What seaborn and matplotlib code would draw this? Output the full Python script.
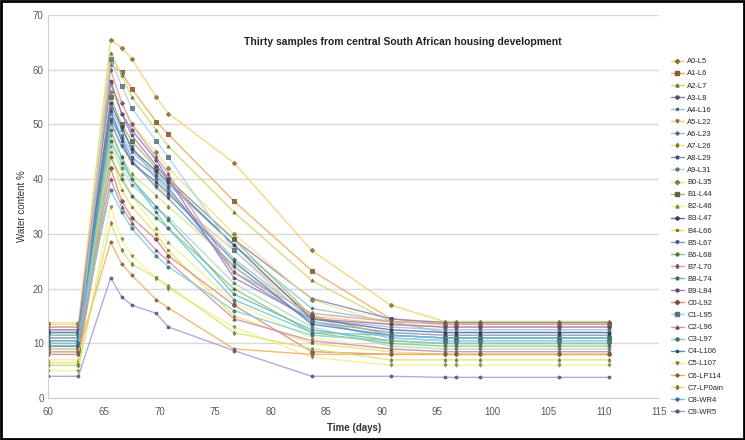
import numpy as np
import pandas as pd
import matplotlib
matplotlib.use("Agg")
import matplotlib.pyplot as plt
import seaborn as sns
from matplotlib.lines import Line2D
from matplotlib.patches import Rectangle

# Sampling times (days)
times = [60, 62.7, 65.6, 66.6, 67.5, 69.7, 70.8, 76.7, 83.7, 90.8, 95.7, 96.7, 98.9, 106.0, 110.5]

samples = ["A0-L5", "A1-L6", "A2-L7", "A3-L8", "A4-L16", "A5-L22", "A6-L23", "A7-L26",
           "A8-L29", "A9-L31", "B0-L35", "B1-L44", "B2-L46", "B3-L47", "B4-L66", "B5-L67",
           "B6-L68", "B7-L70", "B8-L74", "B9-L84", "C0-L92", "C1-L95", "C2-L96", "C3-L97",
           "C4-L106", "C5-L107", "C6-LP114", "C7-LP0ain", "C8-WR4", "C9-WR5"]

# Water content (%) per sample, one value per time
a0 = [13.5, 13.5, 65.5, 64.0, 62.0, 55.0, 52.0, 43.0, 27.0, 17.0, 14.0, 14.0, 14.0, 14.0, 14.0]
a1 = [12.0, 12.0, 61.0, 59.5, 56.5, 50.5, 48.2, 36.0, 23.3, 14.5, 13.5, 13.5, 13.5, 13.5, 13.5]
a2 = [11.0, 11.0, 63.0, 59.0, 55.0, 49.0, 46.0, 34.0, 21.5, 14.0, 14.0, 14.0, 14.0, 14.0, 14.0]
a3 = [10.5, 10.5, 57.5, 52.0, 49.0, 43.5, 40.0, 29.0, 18.2, 14.5, 13.8, 13.8, 13.8, 13.8, 13.8]
a4 = [12.5, 12.5, 52.0, 48.0, 45.0, 41.0, 39.0, 28.0, 16.4, 14.0, 12.0, 12.0, 12.0, 12.0, 12.0]
a5 = [9.0, 9.0, 50.0, 46.0, 43.0, 39.0, 37.0, 27.0, 15.0, 13.5, 13.0, 13.0, 13.0, 13.0, 13.0]
a6 = [13.0, 13.0, 53.0, 49.0, 46.0, 40.0, 38.0, 25.5, 14.5, 13.0, 12.5, 12.5, 12.5, 12.5, 12.5]
a7 = [8.0, 8.0, 48.0, 44.0, 41.0, 37.0, 35.0, 24.5, 15.0, 10.0, 10.0, 10.0, 10.0, 10.0, 10.0]
a8 = [11.5, 11.5, 51.0, 47.5, 44.0, 40.5, 38.5, 23.0, 14.0, 12.0, 11.5, 11.5, 11.5, 11.5, 11.5]
a9 = [6.0, 6.0, 46.0, 42.0, 39.0, 35.0, 33.0, 21.0, 13.0, 9.5, 9.0, 9.0, 9.0, 9.0, 9.0]
b0 = [13.8, 13.8, 56.0, 54.0, 50.0, 45.0, 42.0, 30.0, 18.0, 13.5, 13.0, 13.0, 13.0, 13.0, 13.0]
b1 = [10.0, 10.0, 55.0, 50.0, 47.0, 42.0, 40.0, 29.0, 15.0, 11.5, 11.0, 11.0, 11.0, 11.0, 11.0]
b2 = [7.0, 7.0, 47.0, 41.0, 37.0, 31.0, 28.5, 17.5, 11.0, 9.0, 8.5, 8.5, 8.5, 8.5, 8.5]
b3 = [12.0, 12.0, 54.0, 49.5, 45.5, 41.5, 39.5, 28.0, 14.5, 12.5, 12.0, 12.0, 12.0, 12.0, 12.0]
b4 = [6.5, 6.5, 45.0, 38.0, 35.0, 30.0, 27.0, 15.0, 10.0, 8.5, 8.0, 8.0, 8.0, 8.0, 8.0]
b5 = [11.0, 11.0, 50.5, 46.0, 43.5, 38.5, 36.5, 24.0, 14.0, 11.0, 10.5, 10.5, 10.5, 10.5, 10.5]
b6 = [9.5, 9.5, 44.0, 40.0, 37.0, 33.0, 31.0, 20.0, 12.0, 10.0, 9.5, 9.5, 9.5, 9.5, 9.5]
b7 = [13.0, 13.0, 60.0, 54.0, 50.0, 44.0, 41.0, 23.0, 15.5, 14.0, 13.5, 13.5, 13.5, 13.5, 13.5]
b8 = [10.5, 10.5, 49.0, 44.0, 40.0, 35.0, 32.5, 19.0, 12.5, 10.5, 10.0, 10.0, 10.0, 10.0, 10.0]
b9 = [12.5, 12.5, 58.0, 52.0, 48.0, 42.5, 40.0, 22.0, 14.5, 13.5, 13.0, 13.0, 13.0, 13.0, 13.0]
c0 = [8.5, 8.5, 42.0, 36.0, 33.0, 29.0, 26.0, 17.0, 8.5, 8.0, 8.0, 8.0, 8.0, 8.0, 8.0]
c1 = [9.0, 9.0, 62.0, 57.0, 53.0, 47.0, 44.0, 27.0, 14.0, 11.0, 10.5, 10.5, 10.5, 10.5, 10.5]
c2 = [8.0, 8.0, 40.0, 35.0, 32.0, 27.0, 25.0, 14.5, 10.5, 9.0, 8.5, 8.5, 8.5, 8.5, 8.5]
c3 = [11.5, 11.5, 38.0, 34.0, 31.0, 26.0, 24.0, 16.0, 11.5, 10.5, 10.0, 10.0, 10.0, 10.0, 10.0]
c4 = [9.5, 9.5, 52.5, 47.0, 43.0, 39.5, 37.5, 25.0, 13.5, 11.5, 11.0, 11.0, 11.0, 11.0, 11.0]
c5 = [5.0, 5.0, 35.0, 29.0, 26.0, 22.0, 20.0, 13.0, 7.5, 6.0, 6.0, 6.0, 6.0, 6.0, 6.0]
c6 = [8.5, 8.5, 28.5, 24.5, 22.5, 18.0, 16.5, 9.0, 8.0, 8.0, 8.0, 8.0, 8.0, 8.0, 8.0]
c7 = [6.0, 6.0, 32.0, 27.0, 24.5, 22.0, 20.5, 12.0, 9.0, 7.0, 7.0, 7.0, 7.0, 7.0, 7.0]
c8 = [10.0, 10.0, 47.0, 43.0, 40.0, 34.0, 31.0, 18.0, 12.0, 11.5, 11.0, 11.0, 11.0, 11.0, 11.0]
c9 = [4.0, 4.0, 22.0, 18.5, 17.0, 15.5, 13.0, 8.7, 4.0, 4.0, 3.8, 3.8, 3.8, 3.8, 3.8]

all_values = [a0, a1, a2, a3, a4, a5, a6, a7, a8, a9,
              b0, b1, b2, b3, b4, b5, b6, b7, b8, b9,
              c0, c1, c2, c3, c4, c5, c6, c7, c8, c9]

colors = ["#f2d36b", "#f0a95a", "#c9d96e", "#8d7fbc", "#86c9d9", "#f4c77a", "#9dbde0", "#dbe77e",
          "#7b93c4", "#a9dcc0", "#efe08a", "#a7b87a", "#f6ec9c", "#5f6f9a", "#f3dc55", "#6d9fd0",
          "#8ec27a", "#e39a9a", "#6fb7b0", "#9e7fb4", "#d98b7c", "#a7d2ea", "#c58fb6", "#7cd0cf",
          "#5d86b8", "#f7ee8a", "#f2ad5e", "#d2e66c", "#6dc6dc", "#a99ad6"]
markers = ["D", "s", "^", "o", "*", "v", "P", "d", "p", "h"]

rows = []
for name, vals in zip(samples, all_values):
    for t, v in zip(times, vals):
        rows.append({"Time": t, "Water": v, "Sample": name})
df = pd.DataFrame(rows)

sns.set_style("white")
plt.rcParams["font.family"] = ["Liberation Sans", "DejaVu Sans"]

fig = plt.figure(figsize=(7.45, 4.4), dpi=100)
ax = fig.add_axes([0.065, 0.095, 0.82, 0.871])


def dark(c):
    r, g, b = matplotlib.colors.to_rgb(c)
    return (r * 0.55, g * 0.55, b * 0.55)


marker_map = {s: markers[i % len(markers)] for i, s in enumerate(samples)}
sns.lineplot(data=df, x="Time", y="Water", hue="Sample", style="Sample",
             palette=colors, markers=marker_map, dashes=False, markersize=2.2,
             linewidth=1.0, sort=False, legend=False, ax=ax, alpha=0.85)
for line, c in zip(ax.get_lines(), colors):
    line.set_markeredgecolor(dark(c))
    line.set_markerfacecolor(dark(c))

ax.set_xlim(60, 115)
ax.set_ylim(0, 70)
ax.set_xticks(range(60, 116, 5))
ax.set_yticks(range(0, 71, 10))
ax.yaxis.grid(True, color="#d9d9d9", linewidth=1.0)
ax.set_axisbelow(True)
for side in ["top", "right"]:
    ax.spines[side].set_visible(False)
ax.spines["left"].set_color("#d0d0d0")
ax.spines["bottom"].set_color("#d0d0d0")
ax.tick_params(axis="both", labelsize=7, colors="#595959", length=3)
ax.tick_params(axis="x", direction="out", color="#d0d0d0")
ax.tick_params(axis="y", length=0)
ax.set_xlabel("Time (days)", fontsize=7, fontweight="bold", color="#333333")
ax.set_ylabel("Water content %", fontsize=7, color="#333333")
ax.text(0.58, 0.93, "Thirty samples from central South African housing development",
        transform=ax.transAxes, ha="center", va="center", fontsize=7.5,
        fontweight="bold", color="#222222")

handles = [Line2D([0], [0], color=c, marker=marker_map[s], markersize=2.2, linewidth=1.0,
                  markeredgecolor=dark(c), markerfacecolor=dark(c))
           for s, c in zip(samples, colors)]
fig.legend(handles, samples, loc="upper left", bbox_to_anchor=(0.897, 0.875),
           frameon=False, fontsize=5.5, handlelength=1.6, labelspacing=0.62,
           handletextpad=0.5, borderaxespad=0)

fig.patches.append(Rectangle((0.002, 0.003), 0.996, 0.994, transform=fig.transFigure,
                             fill=False, edgecolor="black", linewidth=2))

fig.savefig("out.png", dpi=100)
